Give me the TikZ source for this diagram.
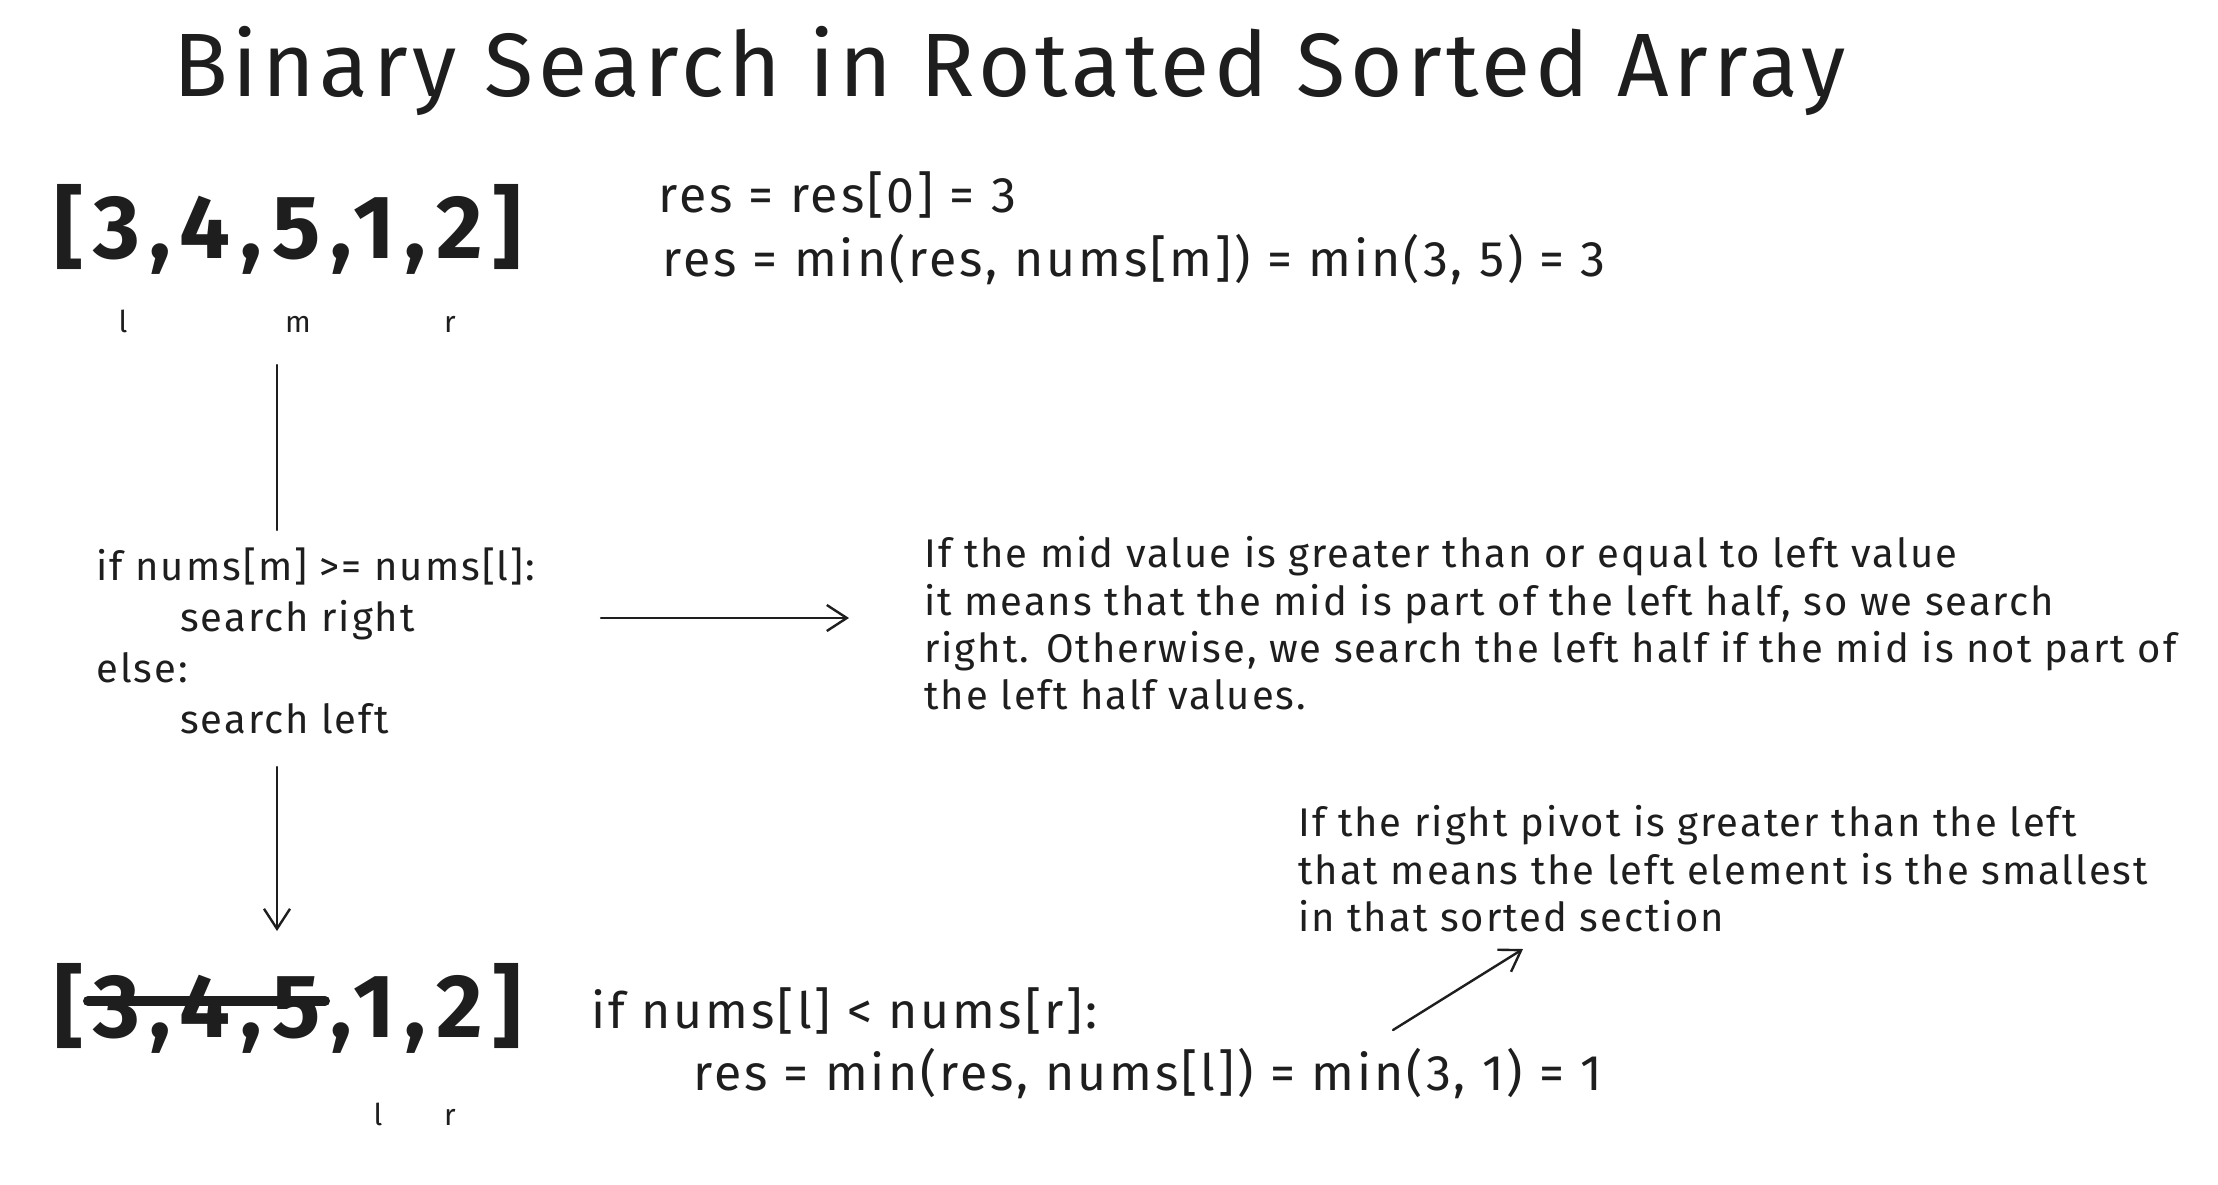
\documentclass[tikz,border=0pt]{standalone}
\usepackage{fontspec}
\setmainfont{Fira Sans}
\usetikzlibrary{arrows.meta}
\definecolor{ink}{HTML}{1E1E1E}
\newcommand{\fs}[2]{\fontsize{#1}{#2}\selectfont}
\begin{document}
\begin{tikzpicture}[x=1pt, y=-1pt, >={Straight Barb[length=20pt,width=26pt]},
    txt/.style={text=ink, inner sep=0pt, anchor=base west},
    big/.style={txt, font=\fs{90}{100}\bfseries\addfontfeature{LetterSpace=11}},
    mid/.style={txt, font=\fs{50}{50}\addfontfeature{LetterSpace=6}},
    note/.style={txt, font=\fs{40}{40}\addfontfeature{LetterSpace=5}},
    tag/.style={text=ink, inner sep=0pt, anchor=base, font=\fs{30}{30}},
    pen/.style={draw=ink, line width=2.4pt, line cap=round}]
    \useasboundingbox[fill=white] (0,0) rectangle (2218,1184);

    % 标题
    \node[txt, font=\fs{90}{90}\addfontfeature{LetterSpace=5}] (title) at (173,96) {Binary Search in Rotated Sorted Array};

    % 第一步: 整个数组
    \node[big] (arr1) at (54,258) {[3,4,5,1,2]};
    \node[mid] (res1a) at (658,212) {res = res[0] = 3};
    \node[mid] (res1b) at (662,276) {res = min(res, nums[m]) = min(3, 5) = 3};
    \node[tag] (l1) at (123,332) {l};
    \node[tag] (m1) at (298,332) {m};
    \node[tag] (r1) at (450,332) {r};

    % 判断条件
    \node[note] (if1)   at (96,580)  {if nums[m] >= nums[l]:};
    \node[note] (go1)   at (180,631) {search right};
    \node[note] (else1) at (96,682)  {else:};
    \node[note] (go2)   at (180,733) {search left};
    \node[note] (why1) at (924,567) {If the mid value is greater than or equal to left value};
    \node[note] (why2) at (924,615) {it means that the mid is part of the left half, so we search};
    \node[note] (why3) at (924,662) {right. Otherwise, we search the left half if the mid is not part of};
    \node[note] (why4) at (924,709) {the left half values.};

    % 第二步: 去掉左半部分
    \node[big] (arr2) at (54,1037) {[3,4,5,1,2]};
    \draw[ink, line width=10pt, line cap=round] (88,1001) -- (325,1001);
    \node[tag] (l2) at (378,1125) {l};
    \node[tag] (r2) at (450,1125) {r};
    \node[mid] (res2a) at (591,1028) {if nums[l] < nums[r]:};
    \node[mid] (res2b) at (693,1090) {res = min(res, nums[l]) = min(3, 1) = 1};
    \node[note] (piv1) at (1298,836) {If the right pivot is greater than the left};
    \node[note] (piv2) at (1298,884) {that means the left element is the smallest};
    \node[note] (piv3) at (1298,931) {in that sorted section};

    % 箭头
    \coordinate (a1) at (277,365);  \coordinate (b1) at (277,530);
    \coordinate (a2) at (601,618);  \coordinate (b2) at (849,618);
    \coordinate (a3) at (277,767);  \coordinate (b3) at (277,931);
    \coordinate (a4) at (1393,1030); \coordinate (b4) at (1523,949);
    \draw[pen] (a1) -- (b1);
    \draw[pen, ->] (a2) -- (b2);
    \draw[pen, ->] (a3) -- (b3);
    \draw[pen, ->] (a4) -- (b4);
\end{tikzpicture}
\end{document}
